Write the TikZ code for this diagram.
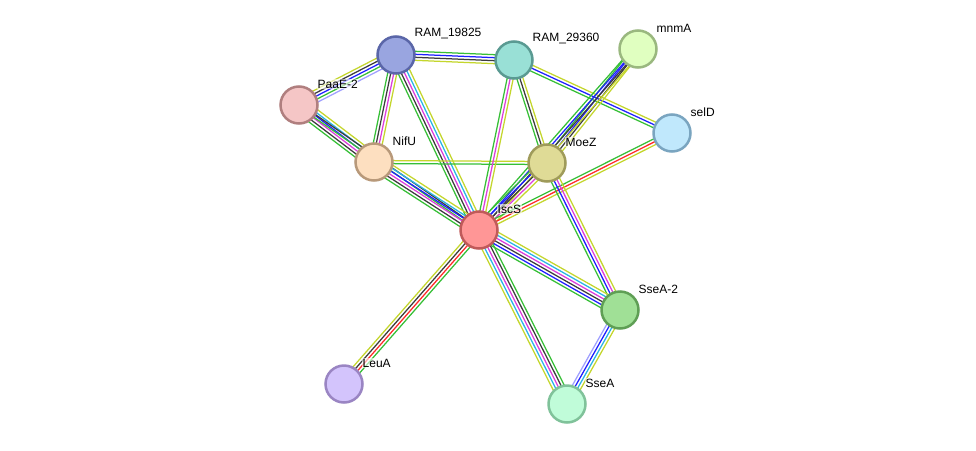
\documentclass[tikz,border=0pt]{standalone}
\usepackage{fontspec}
\setmainfont{Liberation Sans}
\usetikzlibrary{calc}
\definecolor{nb}{RGB}{54,191,54}
\definecolor{fus}{RGB}{255,40,40}
\definecolor{coo}{RGB}{30,30,255}
\definecolor{coe}{RGB}{60,60,60}
\definecolor{exp}{RGB}{220,60,220}
\definecolor{db}{RGB}{40,180,230}
\definecolor{tm}{RGB}{196,214,44}
\definecolor{hom}{RGB}{160,160,255}
\newcommand\medge[3]{%
  \foreach \c [count=\i] in {#3} {\xdef\nn{\i}}%
  \foreach \c [count=\i] in {#3} {%
    \pgfmathsetmacro\off{(\i-(\nn+1)/2)*3.0}%
    \draw[edgeline,\c] ($(#1)!\off pt!90:(#2)$) -- ($(#2)!\off pt!-90:(#1)$);}%
}
\newcommand\prot[6]{% name, x, y, fill, border, label
  \definecolor{f#1}{HTML}{#4}\definecolor{b#1}{HTML}{#5}%
  \node[protein,fill=f#1,draw=b#1] (#1) at (#2,#3) {};
  \node[plabel] (#1l) at ($(#1)+(18,-21)$) {#6};
}
\tikzset{
  protein/.style={circle,minimum size=37pt,inner sep=0pt,line width=2.5pt},
  plabel/.style={anchor=west,inner sep=0.5pt,fill=white,fill opacity=0.6,text opacity=1,font=\fontsize{12}{14}\selectfont},
  edgeline/.style={line width=1.25pt}
}
\begin{document}
\begin{tikzpicture}[x=1pt,y=-1pt]
\useasboundingbox (0,0) rectangle (976,450);
\path[fill=white] (0,0) rectangle (976,450);
% node coordinates
\coordinate (r19) at (396,55);
\coordinate (r29) at (514,60);
\coordinate (mnma) at (638,49);
\coordinate (paa) at (299,105);
\coordinate (seld) at (672,133);
\coordinate (nifu) at (374,162);
\coordinate (moez) at (547,163);
\coordinate (iscs) at (479,230);
\coordinate (ssea2) at (620,310);
\coordinate (leua) at (344,384);
\coordinate (ssea) at (567,404);
% edges
\medge{r19}{r29}{tm,coe,coo,nb}
\medge{r19}{paa}{tm,coe,coo,nb,hom}
\medge{r19}{nifu}{nb,coe,exp,tm}
\medge{r19}{iscs}{nb,coe,exp,db,tm}
\medge{paa}{nifu}{nb,coe,exp,coo,db,tm}
\medge{paa}{iscs}{nb,coe}
\medge{nifu}{iscs}{nb,coe,exp,coo,db,tm}
\medge{nifu}{moez}{nb,tm}
\medge{r29}{iscs}{nb,exp,tm}
\medge{r29}{moez}{nb,coe,tm}
\medge{r29}{seld}{nb,coo,tm}
\medge{mnma}{moez}{nb,coo,coe,tm}
\medge{mnma}{iscs}{nb,coo,coe,tm}
\medge{moez}{iscs}{nb,coo,coe,exp,tm}
\medge{seld}{iscs}{nb,fus,tm}
\medge{moez}{ssea2}{nb,coo,exp,tm}
\medge{iscs}{ssea2}{nb,coo,coe,exp,db,tm}
\medge{iscs}{ssea}{tm,db,exp,coe,nb}
\medge{iscs}{leua}{tm,coe,fus,nb}
\medge{ssea2}{ssea}{hom,coo,db,tm}
% nodes
\prot{RAMa}{396}{55}{99A5E0}{5A66A8}{RAM\_19825}
\prot{RAMb}{514}{60}{99E0D6}{5A9A92}{RAM\_29360}
\prot{mnmA}{638}{49}{E0FFC0}{9AB87F}{mnmA}
\prot{PaaE}{299}{105}{F5C6C6}{B07F7F}{PaaE-2}
\prot{selD}{672}{133}{C0E8FC}{7AA5C0}{selD}
\prot{NifU}{374}{162}{FDDFC0}{B8997A}{NifU}
\prot{MoeZ}{547}{163}{DFDB96}{9F9B5A}{MoeZ}
\prot{IscS}{479}{230}{FF9696}{C05A5A}{IscS}
\prot{SseAb}{620}{310}{A0E096}{5F9F55}{SseA-2}
\prot{LeuA}{344}{384}{D3C4FC}{9A85C3}{LeuA}
\prot{SseA}{567}{404}{C0FCD9}{80C29A}{SseA}
\end{tikzpicture}
\end{document}
